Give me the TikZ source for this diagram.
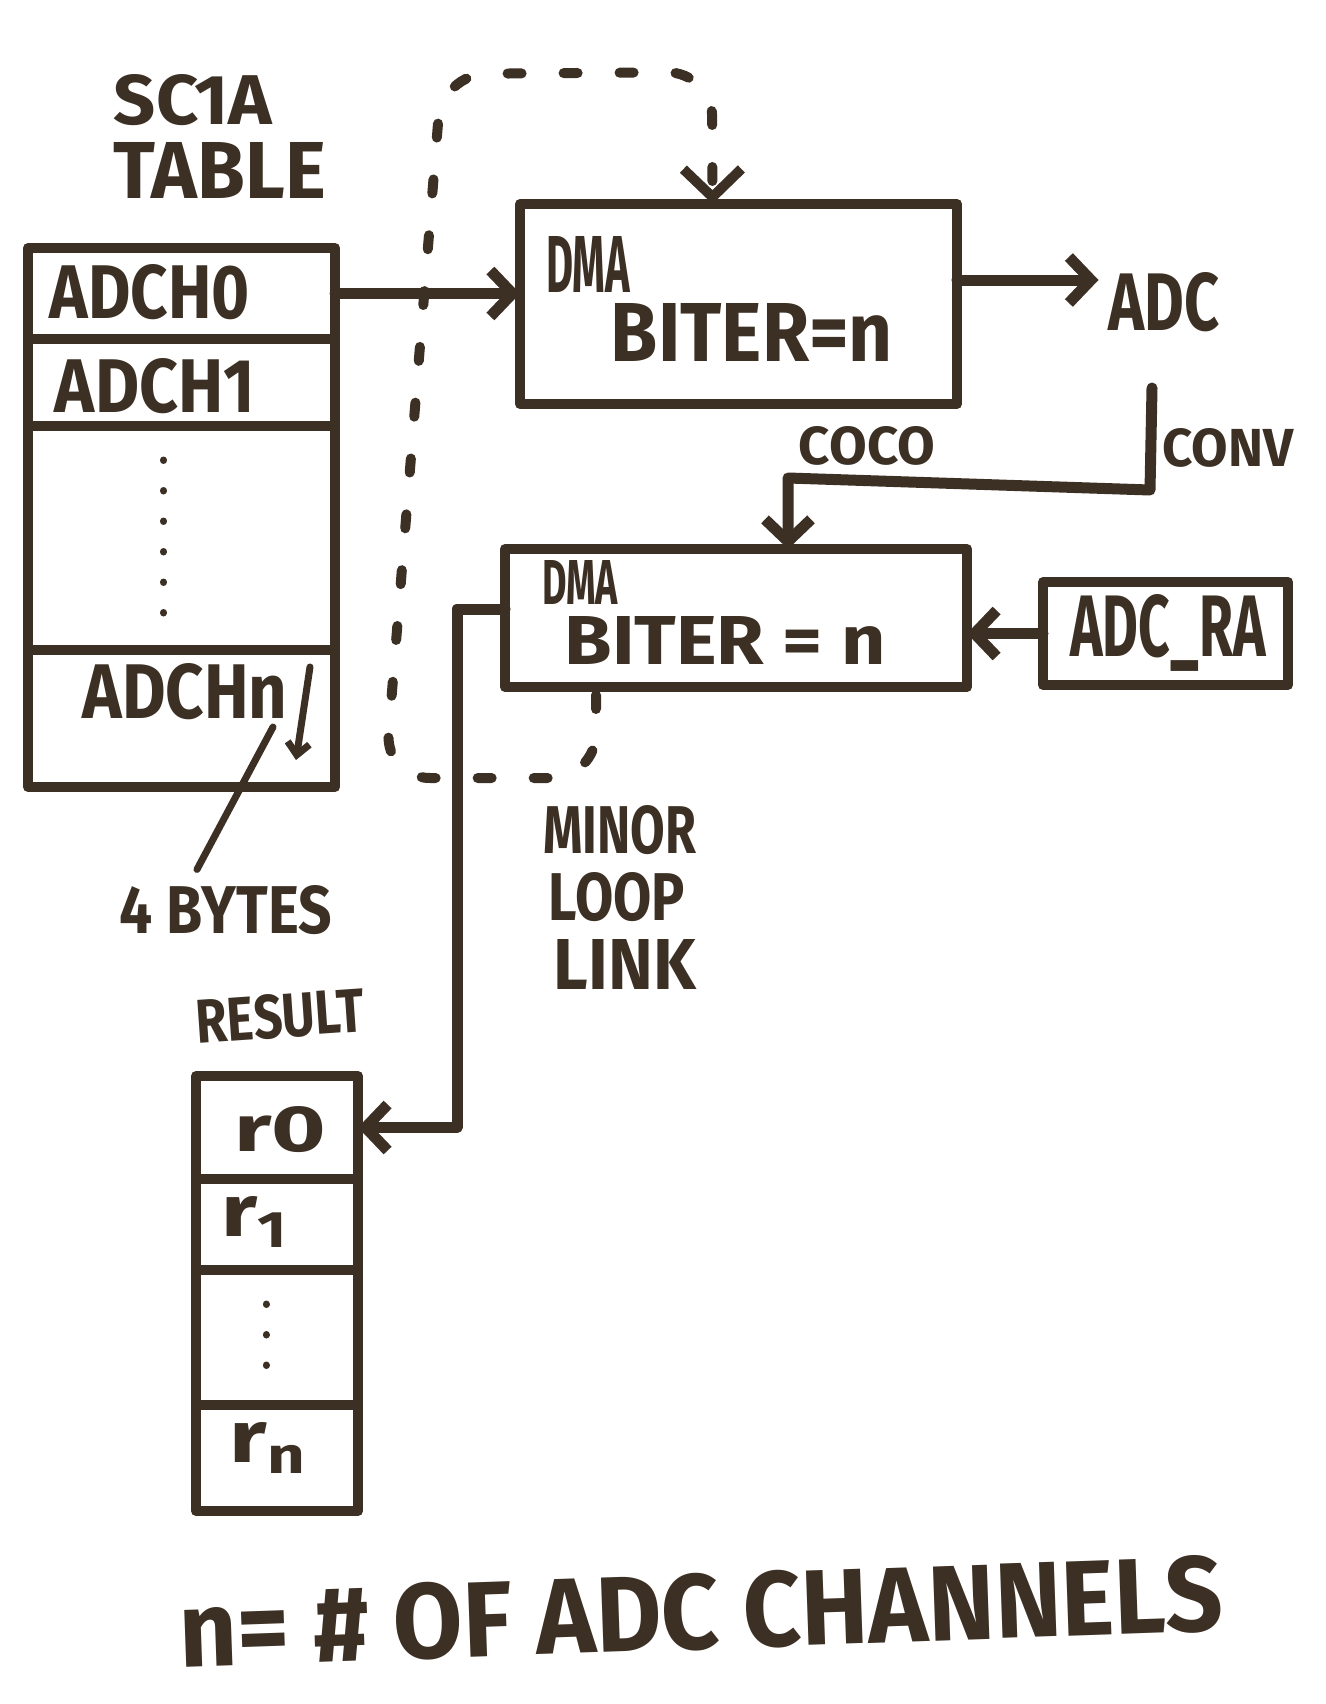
\documentclass[tikz,border=0pt]{standalone}
\usepackage{fontspec}
\usepackage{graphicx}
\setmainfont{Fira Sans}
\newfontfamily\hand{Fira Sans}
\usetikzlibrary{arrows.meta,calc}
\definecolor{ink}{RGB}{60,48,36}
\newcommand\hw[3]{\resizebox{#1pt}{#2pt}{\hand\bfseries #3}}
\begin{document}
\begin{tikzpicture}[x=1pt,y=-1pt,
  every node/.style={inner sep=0pt, outer sep=0pt, text=ink},
  box/.style={draw=ink, line width=10pt, rectangle, inner sep=0pt, line join=round},
  stroke/.style={draw=ink, line width=11pt, line cap=round, line join=round},
  thinstroke/.style={draw=ink, line width=7pt, line cap=round, line join=round},
  arr/.style={-{Straight Barb[length=22pt,width=46pt]}},
  bigarr/.style={-{Straight Barb[length=28pt,width=58pt]}},
  smallarr/.style={-{Straight Barb[length=12pt,width=22pt]}},
  dashline/.style={draw=ink, line width=10pt, line cap=round, dash pattern=on 14pt off 42pt},
  dots/.style={draw=ink, line width=7pt, line cap=round, dash pattern=on 0.5pt off 30pt}
]
\fill[white] (0,0) rectangle (1325,1704);
\useasboundingbox (0,0) rectangle (1325,1704);

% SC1A table
\node (sc1a) at (193,100) {\hw{158}{50}{SC1A}};
\node (tbl) at (220,170) {\hw{212}{56}{TABLE}};
\node[box, minimum width=307pt, minimum height=91pt] (row0) at (181.5,293.5) {};
\node[box, minimum width=307pt, minimum height=87pt] (row1) at (181.5,382.5) {};
\node[box, minimum width=307pt, minimum height=224pt] (row2) at (181.5,538) {};
\node[box, minimum width=307pt, minimum height=137pt] (rown) at (181.5,718.5) {};
\node (ch0) at (150,292) {\hw{200}{54}{ADCH0}};
\node (ch1) at (155,386) {\hw{200}{54}{ADCH1}};
\node (chn) at (185,692) {\hw{205}{55}{ADCHn}};
\draw[dots] ($(row2.north)+(-18,34)$) -- ($(row2.south)+(-18,-12)$);
\coordinate (sz1) at (310,667);
\coordinate (sz2) at (296,760);
\draw[thinstroke, smallarr] (sz1) -- (sz2);
\node (bytes) at (226,910) {\hw{212}{48}{4 BYTES}};
\coordinate (bytestip) at (273,727);
\draw[thinstroke] ($(bytes.north)+(-29,-16)$) -- (bytestip);

% DMA 1
\node[box, minimum width=437pt, minimum height=200pt] (dma1) at (738.5,304) {};
\node (dmaa) at (588,264) {\hw{84}{56}{DMA}};
\node (biter1) at (752,332) {\hw{282}{58}{BITER=n}};
\node (adc) at (1164,302) {\hw{111}{58}{ADC}};

% DMA 2
\node[box, minimum width=462pt, minimum height=138pt] (dma2) at (736,618) {};
\node (dmab) at (580,582) {\hw{76}{44}{DMA}};
\node (biter2) at (725,640) {\hw{321}{48}{BITER = n}};
\node[box, minimum width=245pt, minimum height=103pt] (adcra) at (1165.5,633.5) {};
\node (adcratext) at (1168,633) {\hw{195}{62}{ADC\_RA}};

\node (coco) at (867,446) {\hw{136}{38}{COCO}};
\node (conv) at (1228,448) {\hw{131}{38}{CONV}};

\node (minor) at (620,830) {\hw{153}{48}{MINOR}};
\node (loop) at (617,897) {\hw{136}{48}{LOOP}};
\node (link) at (625,964) {\hw{142}{50}{LINK}};

% result
\node[rotate=4] (result) at (280,1016) {\hw{168}{44}{RESULT}};
\node[box, minimum width=162pt, minimum height=103pt] (r0) at (277,1127.5) {};
\node[box, minimum width=162pt, minimum height=91pt] (r1) at (277,1224.5) {};
\node[box, minimum width=162pt, minimum height=135pt] (rd) at (277,1337.5) {};
\node[box, minimum width=162pt, minimum height=106pt] (rn) at (277,1458) {};
\node (r0t) at (280,1130) {\hw{92}{45}{r0}};
\node (r1t) at (256,1222) {\hw{70}{40}{r\textsubscript{1}}};
\node (rnt) at (270,1448) {\hw{80}{40}{r\textsubscript{n}}};
\draw[dots] ($(rd.north)+(-11,34)$) -- ($(rd.south)+(-11,-18)$);

\node[rotate=2] (note) at (701,1612) {\hw{1044}{76}{n= \# OF ADC CHANNELS}};

% connectors
\draw[stroke, arr] (row0.east) -- (row0.east -| dma1.west);
\coordinate (d1out) at ($(dma1.east)+(0,-24)$);
\draw[stroke, arr, shorten >=10pt] (d1out) -- (d1out -| adc.west);
\coordinate (convtop) at (1152,388);
\coordinate (convbend) at (1150,490);
\coordinate (cocobend) at (788,478);
\draw[stroke, arr] (convtop) -- (convbend) -- (cocobend) -- (cocobend |- dma2.north);
\draw[stroke, arr] (adcra.west) -- (adcra.west -| dma2.east);
\coordinate (d2out) at ($(dma2.west)+(0,-9)$);
\draw[stroke, arr] (d2out) -- ++(-48,0) |- (r0.east);
\coordinate (loopstart) at ($(dma2.south)+(-140,8)$);
\coordinate (loopend) at ($(dma1.north)+(-26,0)$);
\draw[dashline, bigarr, rounded corners=45pt] (loopstart) -- (596,778) -- (385,778) -- (442,74) -- (712,72) -- (loopend);
\end{tikzpicture}
\end{document}
